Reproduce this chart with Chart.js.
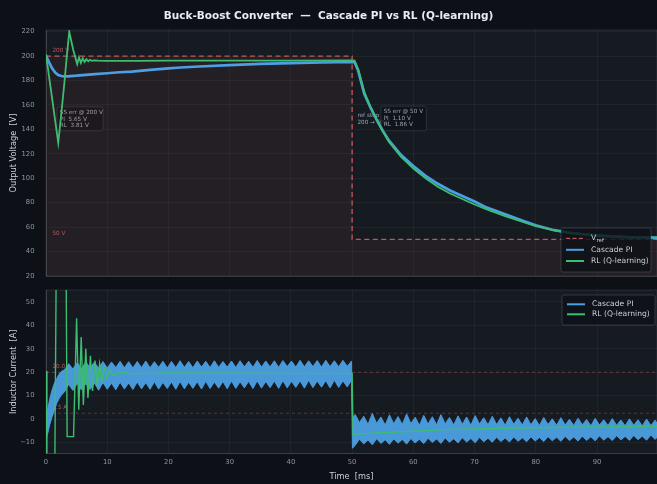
<!DOCTYPE html>
<html>
<head>
<meta charset="utf-8">
<title>Buck-Boost Converter — Cascade PI vs RL (Q-learning)</title>
<script src="https://cdn.jsdelivr.net/npm/chart.js@4.4.1/dist/chart.umd.min.js"></script>
<style>
  html, body { margin: 0; padding: 0; background: #0d1117; }
  #wrap { position: relative; width: 657px; height: 484px; overflow: hidden; background: #0d1117; }
  #title { position: absolute; left: 0; top: 8px; width: 657px; text-align: center; color: #e6edf3;
           font-family: "DejaVu Sans", sans-serif; font-weight: bold; font-size: 10.5px; line-height: 14px;
           white-space: pre; z-index: 2; }
  #cv1 { position: absolute; left: 0; top: 0; }
  #cv2 { position: absolute; left: 0; top: 284px; }
</style>
</head>
<body>
<div id="wrap">
  <div id="title">Buck-Boost Converter  —  Cascade PI vs RL (Q-learning)</div>
  <canvas id="cv1" width="657" height="284"></canvas>
  <canvas id="cv2" width="657" height="200"></canvas>
</div>
<script>
// ---------------- axis ticks ----------------
const xTicks = [0, 10, 20, 30, 40, 50, 60, 70, 80, 90];
const vTicks = [20, 40, 60, 80, 100, 120, 140, 160, 180, 200, 220];
const iTicks = [-10, 0, 10, 20, 30, 40, 50];

// ---------------- voltage reference [ms, V] ----------------
const refT = [0, 50, 50, 100];
const refV = [200, 200, 50, 50];

// ---------------- output voltage, cascade PI ----------------
const tPI = [0, 0.5, 1, 1.5, 2, 2.5, 3, 3.5, 4, 5,
             6, 8, 10, 12, 14, 17, 20, 22, 25, 30,
             35, 40, 45, 50,
             50.4, 51, 52, 53, 54, 55, 56, 58, 60, 62,
             64, 66, 68, 70, 72, 75, 78, 80, 83, 86,
             90, 95, 100];
const vPI = [200.5, 195, 190, 186.5, 184.5, 183.7, 183.4, 183.5, 183.7, 184,
             184.5, 185.3, 186, 186.8, 187.4, 188.7, 190, 190.7, 191.5, 192.7,
             193.6, 194.3, 194.8, 195.2,
             195.1, 188, 169, 158, 148, 139, 131, 119, 110, 102,
             95.5, 90, 85.5, 81, 76, 70.5, 65, 61.5, 57.5, 55,
             53, 51.6, 51.1];

// ---------------- output voltage, RL agent ----------------
const tRL = [0, 2.0, 2.5, 3.0, 3.4, 3.8, 4.45, 5.1, 5.4, 5.7,
             6.0, 6.3, 6.6, 6.9, 7.2, 7.5, 7.9, 8.5, 10, 15,
             20, 30, 40, 50,
             50.4, 51, 52, 53, 54, 55, 56, 58, 60, 62,
             64, 66, 68, 70, 72, 75, 78, 80, 83, 86,
             90, 95, 100];
const vRL = [201.5, 129, 153, 178, 200, 220, 205, 193.5, 199, 194.5,
             198.2, 195.2, 197.5, 195.8, 197, 196.1, 196.6, 196.3, 196.2, 196.2,
             196.3, 196.3, 196.4, 196.5,
             196.3, 189, 170.5, 158.5, 148, 138.5, 130, 117.5, 108, 100,
             93, 87.5, 83, 78.5, 74.5, 69, 64, 60.8, 57.3, 55,
             53.4, 52.3, 51.8];

// steady-state errors [PI, RL] in V
const ssErr200 = [5.65, 3.81];
const ssErr50 = [1.10, 1.86];

// ---------------- inductor current, cascade PI (ripple envelope) ----------------
const tI = [0, 0.3, 0.6, 1.0, 1.4, 1.8, 2.2, 2.6,
            3.0, 3.7, 4.4, 5.1, 5.8, 6.5, 7.2, 7.9, 8.6, 9.3,
            10.0, 10.7, 11.4, 12.1, 12.8, 13.5, 14.2, 14.9, 15.6, 16.3,
            17.0, 17.7, 18.4, 19.1, 19.8, 20.5, 21.2, 21.9, 22.6, 23.3,
            24.0, 24.7, 25.4, 26.1, 26.8, 27.5, 28.2, 28.9, 29.6, 30.3,
            31.0, 31.7, 32.4, 33.1, 33.8, 34.5, 35.2, 35.9, 36.6, 37.3,
            38.0, 38.7, 39.4, 40.1, 40.8, 41.5, 42.2, 42.9, 43.6, 44.3,
            45.0, 45.7, 46.4, 47.1, 47.8, 48.5, 49.2, 49.9,
            50.05,
            50.5, 51.2, 51.9, 52.6, 53.3, 54.0, 54.7, 55.4, 56.1, 56.8,
            57.5, 58.2, 58.9, 59.6, 60.3, 61.0, 61.7, 62.4, 63.1, 63.8,
            64.5, 65.2, 65.9, 66.6, 67.3, 68.0, 68.7, 69.4, 70.1, 70.8,
            71.5, 72.2, 72.9, 73.6, 74.3, 75.0, 75.7, 76.4, 77.1, 77.8,
            78.5, 79.2, 79.9, 80.6, 81.3, 82.0, 82.7, 83.4, 84.1, 84.8,
            85.5, 86.2, 86.9, 87.6, 88.3, 89.0, 89.7, 90.4, 91.1, 91.8,
            92.5, 93.2, 93.9, 94.6, 95.3, 96.0, 96.7, 97.4, 98.1, 98.8,
            99.5, 100];
const iPIhi = [0.5, 4.5, 8.5, 12.5, 15.5, 17.5, 19.5, 20.5,
               21.0, 23.6, 21.4, 24.1, 21.6, 24.4, 21.9, 24.3, 21.7, 24.6,
               21.8, 24.4, 22.0, 24.7, 21.9, 24.5, 21.8, 24.6, 22.0, 24.8,
               21.9, 24.5, 22.1, 24.7, 21.8, 24.6, 22.0, 24.9, 22.1, 24.6,
               21.9, 24.8, 22.2, 24.7, 22.0, 24.9, 22.1, 24.6, 22.2, 24.8,
               22.0, 24.9, 22.3, 24.7, 22.1, 25.0, 22.2, 24.8, 22.3, 24.9,
               22.1, 25.0, 22.4, 24.8, 22.2, 25.1, 22.3, 24.9, 22.4, 25.0,
               22.2, 25.1, 22.4, 24.9, 22.3, 25.1, 22.5, 24.8,
               0.5,
               2.0, -1.5, 1.2, -2.2, 2.4, -1.8, 0.9, -2.5, 1.8, -2.0,
               1.1, -2.3, 2.2, -1.9, 0.8, -2.6, 1.6, -2.1, 1.0, -2.4,
               1.9, -2.0, 0.7, -2.5, 1.4, -2.2, 0.9, -2.6, 1.5, -2.1,
               0.6, -2.4, 1.2, -2.3, 0.5, -2.6, 1.0, -2.2, 0.4, -2.5,
               0.9, -2.4, 0.2, -2.7, 0.7, -2.3, 0.1, -2.6, 0.6, -2.5,
               -0.1, -2.7, 0.4, -2.4, -0.2, -2.8, 0.3, -2.5, -0.3, -2.7,
               0.2, -2.6, -0.4, -2.8, 0.1, -2.6, -0.3, -2.9, 0.0, -2.7,
               -0.4, -2.8];
const iPIlo = [-8.5, -6.0, -2.5, 1.0, 4.0, 7.0, 9.0, 10.5,
               11.5, 14.8, 12.2, 15.3, 12.4, 15.1, 12.6, 15.4, 12.3, 15.6,
               12.7, 15.3, 12.5, 15.7, 12.8, 15.4, 12.6, 15.8, 12.9, 15.5,
               12.7, 15.9, 12.8, 15.6, 13.0, 15.8, 12.7, 16.0, 12.9, 15.7,
               13.1, 15.9, 12.8, 16.1, 13.0, 15.8, 13.2, 16.0, 12.9, 16.2,
               13.1, 15.9, 13.3, 16.1, 13.0, 16.3, 13.2, 16.0, 13.4, 16.2,
               13.1, 16.4, 13.3, 16.1, 13.5, 16.3, 13.2, 16.5, 13.4, 16.2,
               13.6, 16.4, 13.3, 16.6, 13.5, 16.3, 13.7, 16.5,
               -12.5,
               -11.2, -8.6, -10.6, -8.9, -11.0, -8.4, -10.4, -8.8, -10.8, -8.5,
               -10.3, -8.7, -10.7, -8.3, -10.2, -8.6, -10.5, -8.2, -10.0, -8.5,
               -10.4, -8.1, -9.9, -8.4, -10.2, -8.0, -9.8, -8.3, -10.1, -7.9,
               -9.7, -8.2, -9.9, -7.8, -9.6, -8.1, -9.8, -7.7, -9.5, -8.0,
               -9.7, -7.6, -9.4, -7.9, -9.6, -7.5, -9.3, -7.8, -9.5, -7.4,
               -9.2, -7.7, -9.4, -7.3, -9.1, -7.6, -9.3, -7.2, -9.0, -7.5,
               -9.2, -7.1, -8.9, -7.4, -9.1, -7.0, -8.8, -7.3, -9.0, -6.9,
               -8.7, -7.2];

// ---------------- inductor current, RL agent ----------------
const tRLi = [0, 0.15, 1.45, 1.65, 3.3, 3.45, 4.5, 5.0, 5.35, 5.75,
              6.1, 6.5, 6.85, 7.25, 7.6, 8.0, 8.35, 8.75, 9.1, 9.5,
              9.9, 10.4, 11.0, 12.0, 14.0, 20, 30, 40, 50, 50.15,
              55, 60, 66, 75, 85, 100];
const iRL = [20.5, -17, -17, 58, 58, -7.5, -7.5, 43, 4, 35,
             6, 30, 9, 27, 12, 25, 14, 23.5, 16, 22,
             17.5, 21, 18.5, 20.2, 19.3, 19.7, 19.6, 19.5, 19.5, -6.5,
             -5.8, -5.2, -4.4, -3.9, -3.5, -3.1];

// current reference levels [A] and their tags
const iRefLevels = [20, 2.5];
const iRefTags = ['20.0 A', '2.5 A'];

// ---------------- styling ----------------
const FONT = '"DejaVu Sans", sans-serif';
const BLUE = '#4c9fe3';
const BLUE_FILL = 'rgba(76,159,227,0.95)';
const GREEN = '#3dbd70';
const RED = 'rgba(226,96,96,0.85)';
const RED_SOFT = 'rgba(226,96,96,0.45)';
const RED_TEXT = 'rgba(226,110,110,0.75)';
const PLOT_BG = '#161b22';
const GRID = 'rgba(240,246,252,0.06)';
const FRAME = 'rgba(240,246,252,0.13)';
const TICK = '#8b949e';
const LABEL = '#c9d1d9';
const NOTE = '#9aa4ae';
const NONE = 'rgba(0,0,0,0)';

const pts = (xs, ys) => xs.map((x, i) => ({ x: x, y: ys[i] }));
const fmt = v => (v < 0 ? '\u2212' + Math.abs(v) : String(v));

// the gap between labels and the frame is given as an invisible tick mark,
// so that it does not add to the plot's outer padding
function axisX(showLabels, height) {
  return {
    type: 'linear', min: 0, max: 99.8,
    afterBuildTicks: s => { s.ticks = xTicks.map(v => ({ value: v })); },
    afterFit: s => { s.height = height; },
    grid: { color: GRID, drawTicks: true, tickLength: 5, tickColor: NONE, lineWidth: 0.8 },
    border: { color: FRAME, width: 0.8 },
    ticks: { display: showLabels, color: TICK, font: { family: FONT, size: 6.8 }, padding: 0,
             maxRotation: 0, autoSkip: false, callback: v => fmt(v) },
    title: { display: showLabels, text: 'Time  [ms]', color: LABEL,
             font: { family: FONT, size: 8.2 }, padding: { top: 0, bottom: 2.6 } }
  };
}

function axisY(min, max, ticks, title) {
  return {
    type: 'linear', min: min, max: max,
    afterBuildTicks: s => { s.ticks = ticks.map(v => ({ value: v })); },
    afterFit: s => { s.width = 46; },
    grid: { color: GRID, drawTicks: true, tickLength: 11.5, tickColor: NONE, lineWidth: 0.8 },
    border: { color: FRAME, width: 0.8 },
    ticks: { color: TICK, font: { family: FONT, size: 6.8 }, padding: 0, autoSkip: false,
             callback: v => fmt(v) },
    title: { display: true, text: title, color: LABEL, font: { family: FONT, size: 8.2 },
             padding: { top: 8.5, bottom: 0 } }
  };
}

function text(ctx, s, x, y, size, color, align) {
  ctx.font = size + 'px ' + FONT;
  ctx.fillStyle = color;
  ctx.textAlign = align || 'left';
  ctx.textBaseline = 'middle';
  ctx.fillText(s, x, y);
}

function boxPath(ctx, x, y, w, h, r) {
  ctx.beginPath();
  ctx.moveTo(x + r, y);
  ctx.lineTo(x + w - r, y);
  ctx.quadraticCurveTo(x + w, y, x + w, y + r);
  ctx.lineTo(x + w, y + h - r);
  ctx.quadraticCurveTo(x + w, y + h, x + w - r, y + h);
  ctx.lineTo(x + r, y + h);
  ctx.quadraticCurveTo(x, y + h, x, y + h - r);
  ctx.lineTo(x, y + r);
  ctx.quadraticCurveTo(x, y, x + r, y);
  ctx.closePath();
}

function noteBox(ctx, x, y, w, h, lines) {
  ctx.save();
  boxPath(ctx, x, y, w, h, 2);
  ctx.fillStyle = 'rgba(13,17,23,0.72)';
  ctx.fill();
  ctx.strokeStyle = 'rgba(110,118,129,0.40)';
  ctx.lineWidth = 0.7;
  ctx.stroke();
  lines.forEach((s, k) => text(ctx, s, x + 2.8, y + 5.6 + k * 6.6, 5.7, NOTE));
  ctx.restore();
}

// legend drawn inside the plot area from the datasets' own styles
function legendBox(ctx, x, y, w, h, items) {
  ctx.save();
  boxPath(ctx, x, y, w, h, 2);
  ctx.fillStyle = 'rgba(13,17,23,0.82)';
  ctx.fill();
  ctx.strokeStyle = 'rgba(110,118,129,0.45)';
  ctx.lineWidth = 0.8;
  ctx.stroke();
  items.forEach(it => {
    ctx.beginPath();
    ctx.setLineDash(it.dash || []);
    ctx.strokeStyle = it.color;
    ctx.lineWidth = it.width;
    ctx.moveTo(x + 5, it.y);
    ctx.lineTo(x + 23, it.y);
    ctx.stroke();
    ctx.setLineDash([]);
    if (it.sub) {
      text(ctx, it.label, x + 30, it.y - 0.5, 7.6, LABEL);
      const w0 = ctx.measureText(it.label).width;
      text(ctx, it.sub, x + 30 + w0 + 0.3, it.y + 2, 5.4, LABEL);
    } else {
      text(ctx, it.label, x + 30, it.y, 7.6, LABEL);
    }
  });
  ctx.restore();
}

const plotBg = {
  id: 'plotBg',
  beforeDraw(chart) {
    const { ctx, chartArea: a } = chart;
    ctx.save();
    ctx.fillStyle = PLOT_BG;
    ctx.fillRect(a.left, a.top, a.right - a.left, a.bottom - a.top);
    ctx.restore();
  },
  afterDraw(chart) {
    const { ctx, chartArea: a } = chart;
    ctx.save();
    ctx.strokeStyle = FRAME;
    ctx.lineWidth = 0.8;
    ctx.strokeRect(a.left, a.top, a.right - a.left, a.bottom - a.top);
    ctx.restore();
  }
};

// ---------------- voltage panel ----------------
const voltageNotes = {
  id: 'voltageNotes',
  beforeDatasetsDraw(chart) {
    const { ctx, scales: { x, y } } = chart;
    ctx.save();
    text(ctx, refV[0] + ' V', x.getPixelForValue(0) + 6.5, y.getPixelForValue(refV[0]) - 6, 5.7, RED_TEXT);
    text(ctx, refV[3] + ' V', x.getPixelForValue(0) + 6.5, y.getPixelForValue(refV[3]) - 6, 5.7, RED_TEXT);
    const xs = x.getPixelForValue(refT[1]);
    text(ctx, 'ref step', xs + 5.3, y.getPixelForValue(151), 5.7, NOTE);
    text(ctx, refV[0] + ' \u2192 ' + refV[3] + ' V', xs + 5.3, y.getPixelForValue(146), 5.7, NOTE);
    noteBox(ctx, x.getPixelForValue(1.8), y.getPixelForValue(158.5), 46, 24,
      ['SS err @ ' + refV[0] + ' V', 'PI  ' + ssErr200[0].toFixed(2) + ' V', 'RL  ' + ssErr200[1].toFixed(2) + ' V']);
    noteBox(ctx, x.getPixelForValue(54.7), y.getPixelForValue(159), 45.5, 24.5,
      ['SS err @ ' + refV[3] + ' V', 'PI  ' + ssErr50[0].toFixed(2) + ' V', 'RL  ' + ssErr50[1].toFixed(2) + ' V']);
    ctx.restore();
  },
  afterDatasetsDraw(chart) {
    const { ctx, chartArea: a } = chart;
    const ds = chart.data.datasets;
    const bx = a.right - 96, by = a.bottom - 48;
    legendBox(ctx, bx, by, 90, 44, [
      { label: 'V', sub: 'ref', color: ds[0].borderColor, width: 1.3, dash: [4, 2.5], y: by + 10.3 },
      { label: ds[1].label, color: ds[1].borderColor, width: 2, y: by + 21.8 },
      { label: ds[2].label, color: ds[2].borderColor, width: 2, y: by + 33 }
    ]);
  }
};

new Chart(document.getElementById('cv1'), {
  type: 'line',
  data: {
    datasets: [
      { label: 'V_ref', data: pts(refT, refV), borderColor: RED, borderWidth: 1.3, borderDash: [5, 3.5],
        fill: 'start', backgroundColor: 'rgba(226,90,90,0.07)', order: 2 },
      { label: 'Cascade PI', data: pts(tPI, vPI), borderColor: BLUE, borderWidth: 2.7, fill: false, order: 1 },
      { label: 'RL (Q-learning)', data: pts(tRL, vRL), borderColor: GREEN, borderWidth: 1.8, fill: false, order: 0 }
    ]
  },
  options: {
    responsive: false, animation: false, events: [],
    layout: { padding: { top: 30, left: 0, right: 0, bottom: 0 } },
    elements: { point: { radius: 0 }, line: { tension: 0 } },
    plugins: { legend: { display: false }, tooltip: { enabled: false } },
    scales: { x: axisX(false, 8), y: axisY(20, 221.4, vTicks, 'Output Voltage  [V]') }
  },
  plugins: [plotBg, voltageNotes]
});

// ---------------- current panel ----------------
const currentNotes = {
  id: 'currentNotes',
  beforeDatasetsDraw(chart) {
    const { ctx, scales: { x, y } } = chart;
    ctx.save();
    iRefLevels.forEach((lv, k) => {
      text(ctx, iRefTags[k], x.getPixelForValue(0) + 6.5, y.getPixelForValue(lv) - 5.5, 5.7, RED_TEXT);
    });
    ctx.restore();
  },
  afterDatasetsDraw(chart) {
    const { ctx, chartArea: a } = chart;
    const ds = chart.data.datasets;
    const bx = a.right - 95, by = a.top + 5;
    legendBox(ctx, bx, by, 93, 30, [
      { label: ds[0].label, color: BLUE, width: 2, y: by + 9.3 },
      { label: ds[2].label, color: ds[2].borderColor, width: 2, y: by + 19.3 }
    ]);
  }
};

const refLineSets = iRefLevels.map(lv => ({
  label: 'I ' + lv, data: pts([0, 100], [lv, lv]), borderColor: RED_SOFT, borderWidth: 0.8,
  borderDash: [3, 3], fill: false, order: 3
}));

new Chart(document.getElementById('cv2'), {
  type: 'line',
  data: {
    datasets: [
      { label: 'Cascade PI', data: pts(tI, iPIhi), borderColor: BLUE, borderWidth: 0.9,
        fill: '+1', backgroundColor: BLUE_FILL, order: 1 },
      { label: 'Cascade PI (lower)', data: pts(tI, iPIlo), borderColor: BLUE, borderWidth: 0.9, fill: false, order: 1 },
      { label: 'RL (Q-learning)', data: pts(tRLi, iRL), borderColor: GREEN, borderWidth: 1.4, fill: false, order: 0 }
    ].concat(refLineSets)
  },
  options: {
    responsive: false, animation: false, events: [],
    layout: { padding: { top: 6, left: 0, right: 0, bottom: 0 } },
    elements: { point: { radius: 0 }, line: { tension: 0 } },
    plugins: { legend: { display: false }, tooltip: { enabled: false } },
    scales: { x: axisX(true, 30.5), y: axisY(-14.7, 55.1, iTicks, 'Inductor Current  [A]') }
  },
  plugins: [plotBg, currentNotes]
});
</script>
</body>
</html>
